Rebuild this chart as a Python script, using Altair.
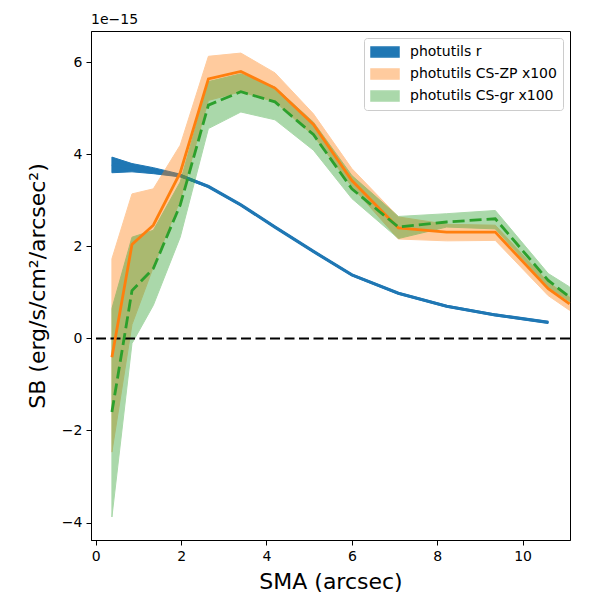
import pandas as pd
import altair as alt

# semi-major axis of each isophote (arcsec)
sma = [0.38, 0.85, 1.35, 1.98, 2.64, 3.40, 4.20, 5.10, 6.00, 7.09, 8.22, 9.36, 10.60]
sma_cs = sma + [11.10]

# surface brightness, in units of 1e-15 erg/s/cm2/arcsec2
r_mid = [3.78, 3.71, 3.64, 3.54, 3.30, 2.90, 2.42, 1.89, 1.38, 0.98, 0.70, 0.51, 0.35]
r_lo = [3.60, 3.62, 3.58, 3.51, 3.28, 2.88, 2.40, 1.87, 1.36, 0.96, 0.68, 0.49, 0.33]
r_hi = [3.94, 3.80, 3.71, 3.57, 3.32, 2.92, 2.44, 1.91, 1.40, 1.00, 0.72, 0.53, 0.37]

zp_mid = [-0.41, 2.04, 2.46, 3.60, 5.64, 5.80, 5.44, 4.65, 3.43, 2.40, 2.31, 2.31, 1.08, 0.75]
zp_lo = [-2.47, 0.30, 1.55, 3.00, 5.17, 5.36, 5.14, 4.41, 3.30, 2.16, 2.12, 2.13, 0.93, 0.61]
zp_hi = [1.73, 3.14, 3.25, 4.20, 6.13, 6.20, 5.77, 4.88, 3.69, 2.64, 2.48, 2.46, 1.22, 0.90]

gr_mid = [-1.60, 1.04, 1.52, 2.90, 5.07, 5.36, 5.14, 4.43, 3.25, 2.42, 2.53, 2.60, 1.26, 0.90]
gr_lo = [-3.88, -0.11, 0.72, 2.20, 4.56, 4.92, 4.75, 4.09, 3.04, 2.17, 2.42, 2.38, 1.12, 0.80]
gr_hi = [0.65, 2.20, 2.35, 3.40, 5.58, 5.75, 5.46, 4.70, 3.54, 2.65, 2.71, 2.78, 1.41, 1.12]

labels = ['photutils r', 'photutils CS-ZP x100', 'photutils CS-gr x100']
colors = ['#1f77b4', '#ff7f0e', '#2ca02c']
alphas = [1.0, 0.4, 0.4]

FONT = 'DejaVu Sans'

x_enc = alt.X('sma:Q', title='SMA (arcsec)',
              scale=alt.Scale(domain=[-0.11, 11.11], nice=False, zero=False),
              axis=alt.Axis(values=[0, 2, 4, 6, 8, 10]))
y_scale = alt.Scale(domain=[-4.38, 6.68], nice=False, zero=False)
y_axis = alt.Axis(values=[-4, -2, 0, 2, 4, 6])

# wide flat patch like matplotlib's legend handles
legend = alt.Legend(title=None, orient='top-right', offset=7, padding=6,
                    strokeColor='#cccccc', fillColor='rgba(255,255,255,0.8)',
                    cornerRadius=3, labelFontSize=14, labelFont=FONT,
                    symbolType='M-2,-0.7L2,-0.7L2,0.7L-2,0.7Z', symbolSize=196,
                    symbolOffset=7, labelOffset=17, rowPadding=6, labelLimit=300)


def band_frame(x, lo, hi, label):
    return pd.DataFrame({'sma': x, 'lo': lo, 'hi': hi, 'series': label})


def line_frame(x, y):
    return pd.DataFrame({'sma': x, 'sb': y})


def band_chart(df):
    return alt.Chart(df).mark_area(strokeWidth=1).encode(
        x=x_enc,
        y=alt.Y('lo:Q', title='SB (erg/s/cm²/arcsec²)', scale=y_scale, axis=y_axis),
        y2='hi:Q',
        color=alt.Color('series:N', scale=alt.Scale(domain=labels, range=colors), legend=legend),
        stroke=alt.Stroke('series:N', scale=alt.Scale(domain=labels, range=colors), legend=legend),
        opacity=alt.Opacity('series:N', scale=alt.Scale(type='ordinal', domain=labels, range=alphas),
                            legend=legend),
    )


def line_chart(df, color, width, dash=None):
    kw = {'color': color, 'strokeWidth': width}
    if dash:
        kw['strokeDash'] = dash
    return alt.Chart(df).mark_line(**kw).encode(
        x=x_enc,
        y=alt.Y('sb:Q', scale=y_scale, axis=y_axis),
    )


r_band = band_chart(band_frame(sma, r_lo, r_hi, labels[0]))
zp_band = band_chart(band_frame(sma_cs, zp_lo, zp_hi, labels[1]))
gr_band = band_chart(band_frame(sma_cs, gr_lo, gr_hi, labels[2]))

r_line = line_chart(line_frame(sma, r_mid), colors[0], 3.2)
zp_line = line_chart(line_frame(sma_cs, zp_mid), colors[1], 2.8)
gr_line = line_chart(line_frame(sma_cs, gr_mid), colors[2], 2.8, dash=[12, 5])

zero = alt.Chart(pd.DataFrame({'sb': [0]})).mark_rule(
    color='black', strokeWidth=2, strokeDash=[10, 4.5]
).encode(y=alt.Y('sb:Q', scale=y_scale))

chart = alt.layer(
    r_band, r_line, zp_band, gr_band, zero, zp_line, gr_line
).properties(
    width=479,
    height=509,
    title=alt.TitleParams('1e−15', anchor='start', frame='group', fontSize=14,
                          font=FONT, fontWeight='normal', offset=4),
    autosize=alt.AutoSizeParams(type='none'),
    padding={'left': 83, 'top': 23, 'right': 22, 'bottom': 52},
).configure_view(
    stroke='black', strokeWidth=1
).configure_axis(
    grid=False, domainColor='black', tickColor='black', tickSize=5,
    labelFont=FONT, labelFontSize=14, labelColor='black', labelPadding=4,
    titleFont=FONT, titleFontSize=22, titleFontWeight='normal', titleColor='black',
).configure_axisX(
    titlePadding=8
).configure_axisY(
    titlePadding=12
)

chart.save('out.html', embed_options={'renderer': 'svg', 'actions': False})
